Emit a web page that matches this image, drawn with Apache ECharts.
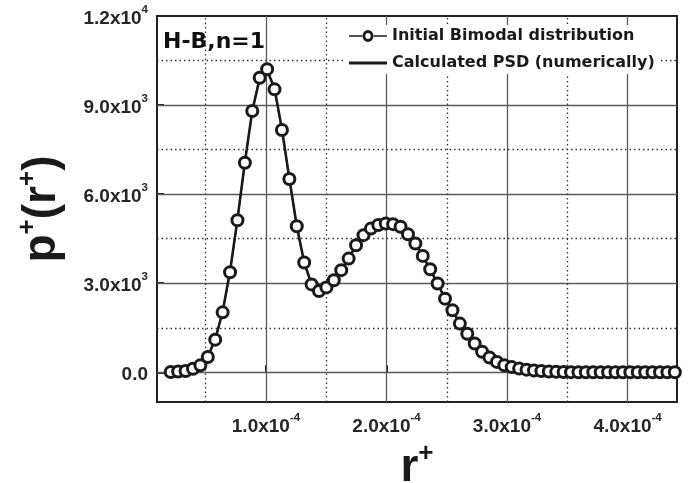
<!DOCTYPE html>
<html><head><meta charset="utf-8">
<script src="https://cdn.jsdelivr.net/npm/echarts@6/dist/echarts.min.js"></script>
<style>html,body{margin:0;padding:0;background:#fff}#c{width:690px;height:483px}</style>
</head><body><div id="c"></div>
<script>
// r+ grid (radius values)
const rValues = [
  0.2100e-4, 0.2715e-4, 0.3330e-4, 0.3945e-4, 0.4560e-4, 0.5175e-4, 0.5790e-4, 0.6405e-4,
  0.7020e-4, 0.7635e-4, 0.8250e-4, 0.8865e-4, 0.9480e-4, 1.0095e-4, 1.0710e-4, 1.1325e-4,
  1.1940e-4, 1.2555e-4, 1.3170e-4, 1.3785e-4, 1.4400e-4, 1.5015e-4, 1.5630e-4, 1.6245e-4,
  1.6860e-4, 1.7475e-4, 1.8090e-4, 1.8705e-4, 1.9320e-4, 1.9935e-4, 2.0550e-4, 2.1165e-4,
  2.1780e-4, 2.2395e-4, 2.3010e-4, 2.3625e-4, 2.4240e-4, 2.4855e-4, 2.5470e-4, 2.6085e-4,
  2.6700e-4, 2.7315e-4, 2.7930e-4, 2.8545e-4, 2.9160e-4, 2.9775e-4, 3.0390e-4, 3.1005e-4,
  3.1620e-4, 3.2235e-4, 3.2850e-4, 3.3465e-4, 3.4080e-4, 3.4695e-4, 3.5310e-4, 3.5925e-4,
  3.6540e-4, 3.7155e-4, 3.7770e-4, 3.8385e-4, 3.9000e-4, 3.9615e-4, 4.0230e-4, 4.0845e-4,
  4.1460e-4, 4.2075e-4, 4.2690e-4, 4.3305e-4, 4.3920e-4
];
// Initial bimodal distribution p+(r+)
const initialPSD = [
  10, 25, 45, 120, 236, 516, 1100, 2020,
  3370, 5120, 7060, 8800, 9920, 10210, 9530, 8160,
  6510, 4920, 3700, 2960, 2740, 2860, 3100, 3440,
  3830, 4280, 4620, 4840, 4960, 5010, 4990, 4900,
  4650, 4340, 3920, 3470, 2990, 2480, 2090, 1640,
  1300, 970, 690, 500, 350, 236, 175, 125,
  90, 60, 40, 25, 15, 10, 6, 4,
  2, 1, 1, 0, 0, 0, 0, 0,
  0, 0, 0, 0, 0
];
// Calculated PSD (numerically)
const calculatedPSD = [
  10, 25, 45, 120, 236, 520, 1110, 2040,
  3400, 5150, 7080, 8810, 9900, 10180, 9550, 8190,
  6530, 4930, 3700, 2960, 2740, 2860, 3100, 3440,
  3830, 4280, 4620, 4840, 4960, 5010, 4990, 4900,
  4650, 4340, 3920, 3470, 2990, 2480, 2090, 1640,
  1300, 970, 690, 500, 350, 236, 175, 125,
  90, 60, 40, 25, 15, 10, 6, 4,
  2, 1, 1, 0, 0, 0, 0, 0,
  0, 0, 0, 0, 0
];
const seriesNames = ['Initial Bimodal distribution', 'Calculated PSD (numerically)'];
const xTickValues = [1e-4, 2e-4, 3e-4, 4e-4];
const xTickBase = ['1.0x10', '2.0x10', '3.0x10', '4.0x10'];
const xTickExp = ['-4', '-4', '-4', '-4'];
const yTickValues = [0, 3000, 6000, 9000, 12000];
const yTickBase = ['0.0', '3.0x10', '6.0x10', '9.0x10', '1.2x10'];
const yTickExp = ['', '3', '3', '3', '4'];
const xMajorGrid = [1e-4, 2e-4, 3e-4, 4e-4];
const xMinorGrid = [0.5e-4, 1.5e-4, 2.5e-4, 3.5e-4];
const yMajorGrid = [0, 3000, 6000, 9000];
const yMinorGrid = [1500, 4500, 7500, 10500];
const X_MIN = 0.096e-4, X_MAX = 4.41e-4, Y_MIN = -1000, Y_MAX = 12000;

const INK = '#1a1a1a';
const tickFont = '"Liberation Sans", Arial, sans-serif';
const nameFont = '"Liberation Sans Narrow", "Liberation Sans", Arial, sans-serif';
const tickRich = {
  a: { fontFamily: tickFont, fontWeight: 'bold', fontSize: 19, color: '#262626', lineHeight: 24, verticalAlign: 'bottom' },
  s: { fontFamily: tickFont, fontWeight: 'bold', fontSize: 11.5, color: '#262626', lineHeight: 12, verticalAlign: 'top' }
};
const nameRich = {
  a: { fontFamily: nameFont, fontWeight: 'bold', fontSize: 46, color: INK, lineHeight: 50, verticalAlign: 'bottom' },
  s: { fontFamily: nameFont, fontWeight: 'bold', fontSize: 26, color: INK, lineHeight: 26, verticalAlign: 'top' }
};
function fmt(values, base, exp) {
  return function (v) {
    let i = values.findIndex(t => Math.abs(t - v) < Math.abs(values[1] - values[0]) * 1e-6);
    if (i < 0) return '';
    return exp[i] ? '{a|' + base[i] + '}{s|' + exp[i] + '}' : '{a|' + base[i] + '}';
  };
}

const solidGrid = { type: 'solid', color: '#5a5a5a', width: 1.3 };
const dotGrid = { type: [1.5, 3], color: '#333', width: 1.3 };
const hGridLines = []
  .concat(yMajorGrid.map(v => [{ coord: [X_MIN, v], lineStyle: solidGrid }, { coord: [X_MAX, v] }]))
  .concat(yMinorGrid.map(v => [{ coord: [X_MIN, v], lineStyle: dotGrid }, { coord: [X_MAX, v] }]));
const vGridLines = []
  .concat(xMajorGrid.map(v => [{ coord: [v, Y_MIN], lineStyle: solidGrid }, { coord: [v, Y_MAX] }]))
  .concat(xMinorGrid.map(v => [{ coord: [v, Y_MIN], lineStyle: dotGrid }, { coord: [v, Y_MAX] }]));

// legend icons: line with open circle, and plain thick line
const iconLineCircle = 'path://M0,5.3L13.2,5.3L13.2,6.7L0,6.7Z M24.8,5.3L38,5.3L38,6.7L24.8,6.7Z ' +
  'M19,0.5A5.5,5.5 0 1,1 19,11.5A5.5,5.5 0 1,1 19,0.5Z M19,3.3A2.7,2.7 0 1,0 19,8.7A2.7,2.7 0 1,0 19,3.3Z';
const iconLine = 'path://M0,4.6L38,4.6L38,7.4L0,7.4Z M0,0L0.01,0L0.01,12L0,12Z';

const chart = echarts.init(document.getElementById('c'), null, { renderer: 'canvas' });
chart.setOption({
  animation: false,
  backgroundColor: '#fff',
  title: {
    text: 'H-B,n=1', left: 163, top: 31, padding: 0,
    textStyle: { fontFamily: '"DejaVu Sans", sans-serif', fontWeight: 'bold', fontSize: 22, color: '#111' }
  },
  legend: {
    data: [
      { name: seriesNames[0], icon: iconLineCircle, itemStyle: { color: INK, borderWidth: 0 } },
      { name: seriesNames[1], icon: iconLine, itemStyle: { color: INK, borderWidth: 0 } }
    ],
    orient: 'vertical', left: 346, top: 25,
    itemWidth: 38, itemHeight: 12, itemGap: 11, padding: [3, 6, 3, 3],
    backgroundColor: '#fff', selectedMode: false, symbolKeepAspect: false,
    textStyle: { fontFamily: '"DejaVu Sans", sans-serif', fontWeight: 'bold', fontSize: 16, color: '#1a1a1a' }
  },
  grid: { left: 157, right: 13, top: 16, bottom: 81, outerBoundsMode: 'none', containLabel: false,
    show: true, borderColor: '#222', borderWidth: 2, backgroundColor: 'transparent' },
  xAxis: {
    type: 'value', min: X_MIN, max: X_MAX,
    splitLine: { show: false }, axisLine: { show: false },
    axisTick: { show: true, inside: true, length: 7, customValues: xTickValues, lineStyle: { color: '#222', width: 2 } },
    axisLabel: { customValues: xTickValues, margin: 10, formatter: fmt(xTickValues, xTickBase, xTickExp), rich: tickRich },
    name: '{a|r}{s|+}', nameLocation: 'middle', nameGap: 37, nameTextStyle: { rich: nameRich }
  },
  yAxis: {
    type: 'value', min: Y_MIN, max: Y_MAX,
    splitLine: { show: false }, axisLine: { show: false },
    axisTick: { show: true, inside: true, length: 7, customValues: yTickValues, lineStyle: { color: '#222', width: 2 } },
    axisLabel: { customValues: yTickValues, margin: 9, formatter: fmt(yTickValues, yTickBase, yTickExp), rich: tickRich },
    name: '{a|p}{s|+}{a|(r}{s|+}{a|)}', nameLocation: 'middle', nameGap: 92, nameTextStyle: { rich: nameRich }
  },
  series: [
    {
      type: 'line', name: seriesNames[1], z: 3,
      data: rValues.map((r, i) => [r, calculatedPSD[i]]),
      showSymbol: false, symbol: 'none',
      lineStyle: { color: INK, width: 2.6 }, itemStyle: { color: INK },
      markLine: { silent: true, z: 1, symbol: ['none', 'none'], label: { show: false }, animation: false,
        data: hGridLines.concat(vGridLines) }
    },
    {
      type: 'line', name: seriesNames[0], z: 4,
      data: rValues.map((r, i) => [r, initialPSD[i]]),
      symbol: 'circle', symbolSize: 11, showSymbol: true,
      lineStyle: { color: INK, width: 1.5 },
      itemStyle: { color: '#fff', borderColor: INK, borderWidth: 3 }
    }
  ]
});
</script></body></html>
